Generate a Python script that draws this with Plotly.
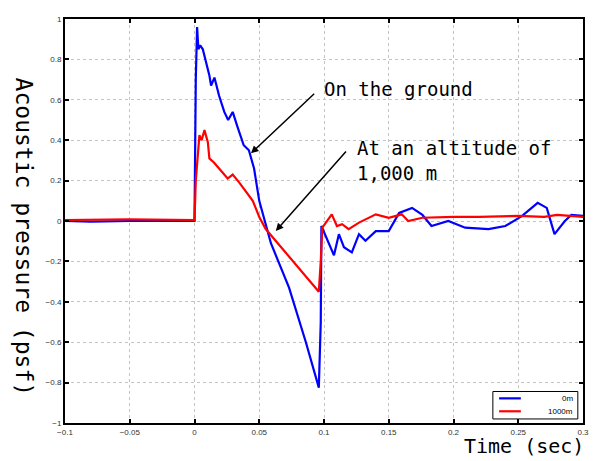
import plotly.graph_objects as go

# Ground (0 m) waveform
t_ground = [-0.1, -0.08, -0.05, -0.02, 0.0, 0.001, 0.002, 0.003, 0.0044, 0.0064, 0.0077,
            0.0115, 0.0128, 0.0154, 0.019, 0.023, 0.026, 0.0295, 0.033, 0.038, 0.042,
            0.046, 0.050, 0.054, 0.059, 0.073, 0.086, 0.096, 0.0975, 0.098, 0.1026,
            0.1077, 0.1115, 0.1154, 0.1215, 0.127, 0.132, 0.14, 0.15, 0.158, 0.168,
            0.176, 0.183, 0.196, 0.209, 0.227, 0.24, 0.253, 0.265, 0.272, 0.278,
            0.286, 0.291, 0.3]
p_ground = [0.0, -0.003, 0.0, -0.002, 0.0, 0.7, 0.96, 0.85, 0.87, 0.85, 0.82,
            0.72, 0.67, 0.71, 0.62, 0.54, 0.50, 0.54, 0.47, 0.375, 0.35,
            0.26, 0.10, 0.01, -0.11, -0.33, -0.60, -0.825, -0.5, -0.025, -0.098,
            -0.17, -0.065, -0.13, -0.155, -0.065, -0.098, -0.05, -0.05, 0.04, 0.065,
            0.03, -0.025, 0.0, -0.033, -0.04, -0.025, 0.025, 0.09, 0.065, -0.065,
            0.0, 0.03, 0.025]

# 1000 m altitude waveform
t_alt = [-0.1, -0.05, 0.0, 0.001, 0.0038, 0.0055, 0.0077, 0.0103, 0.0115, 0.015, 0.019,
         0.0256, 0.0295, 0.0346, 0.045, 0.05, 0.055, 0.068, 0.08, 0.096, 0.0975,
         0.0987, 0.106, 0.11, 0.114, 0.119, 0.127, 0.14, 0.15, 0.16, 0.165, 0.176,
         0.2, 0.22, 0.25, 0.27, 0.28, 0.3]
p_alt = [0.005, 0.008, 0.005, 0.2, 0.425, 0.40, 0.45, 0.39, 0.31, 0.29, 0.26,
         0.21, 0.23, 0.19, 0.10, 0.02, -0.04, -0.14, -0.23, -0.35, -0.2,
         -0.033, 0.033, -0.025, -0.016, -0.04, -0.008, 0.033, 0.016, 0.033, 0.0, 0.016,
         0.02, 0.02, 0.025, 0.02, 0.03, 0.02]

series_names = ["0m", "1000m"]
series_colors = ["#0000ff", "#ff0000"]

x_ticks = [-0.1, -0.05, 0, 0.05, 0.1, 0.15, 0.2, 0.25, 0.3]
y_ticks = [-1, -0.8, -0.6, -0.4, -0.2, 0, 0.2, 0.4, 0.6, 0.8, 1]

mono = "DejaVu Sans Mono"

fig = go.Figure()
fig.add_trace(go.Scatter(x=t_ground, y=p_ground, mode="lines", name=series_names[0],
                         line=dict(color=series_colors[0], width=2.2)))
fig.add_trace(go.Scatter(x=t_alt, y=p_alt, mode="lines", name=series_names[1],
                         line=dict(color=series_colors[1], width=2.2)))

axis_common = dict(showline=True, linecolor="black", linewidth=2, mirror="ticks",
                   ticks="inside", ticklen=4, tickcolor="black", tickwidth=1.5,
                   showgrid=True, gridcolor="#c4c4c4", griddash="dot", gridwidth=1,
                   zeroline=False, tickfont=dict(family="Liberation Sans", size=8, color="#333"))

fig.update_xaxes(range=[-0.1, 0.3], tickvals=x_ticks, **axis_common)
fig.update_yaxes(range=[-1, 1], tickvals=y_ticks, **axis_common)

fig.add_annotation(x=0.0436, y=0.335, ax=0.0936, ay=0.637, axref="x", ayref="y",
                   text="", showarrow=True, arrowhead=2, arrowsize=1, arrowwidth=1.5,
                   arrowcolor="black")
fig.add_annotation(x=0.0628, y=-0.049, ax=0.118, ay=0.351, axref="x", ayref="y",
                   text="", showarrow=True, arrowhead=2, arrowsize=1, arrowwidth=1.5,
                   arrowcolor="black")
fig.add_annotation(x=0.0985, y=0.655, text="On the ground", showarrow=False,
                   xanchor="left", yanchor="middle",
                   font=dict(family=mono, size=19, color="black"))
fig.add_annotation(x=0.124, y=0.30, text="At an altitude of<br>1,000 m", showarrow=False,
                   xanchor="left", yanchor="middle", align="left",
                   font=dict(family=mono, size=19, color="black"))

fig.add_annotation(xref="paper", yref="paper", x=0.886, y=-0.058,
                   text="Time (sec)", showarrow=False, xanchor="center", yanchor="middle",
                   font=dict(family=mono, size=20, color="black"))
fig.add_annotation(xref="paper", yref="paper", x=-0.08, y=0.46,
                   text="Acoustic pressure (psf)", showarrow=False, textangle=90,
                   xanchor="center", yanchor="middle",
                   font=dict(family=mono, size=23, color="black"))

# manual compact legend
fig.add_shape(type="rect", xref="paper", yref="paper", x0=0.826, x1=0.990, y0=0.010, y1=0.078,
              line=dict(color="black", width=1), fillcolor="white", layer="above")
for i, (nm, col) in enumerate(zip(series_names, series_colors)):
    yy = 0.061 - i * 0.032
    fig.add_shape(type="line", xref="paper", yref="paper", x0=0.838, x1=0.880, y0=yy, y1=yy,
                  line=dict(color=col, width=2.2), layer="above")
    fig.add_annotation(xref="paper", yref="paper", x=0.985, y=yy, text=nm, showarrow=False,
                       xanchor="right", yanchor="middle",
                       font=dict(family="Liberation Sans", size=8, color="black"))

fig.update_layout(
    width=599, height=461,
    margin=dict(l=57, r=24, t=7, b=46),
    paper_bgcolor="white", plot_bgcolor="white",
    showlegend=False,
)

fig.write_html("out.html")
